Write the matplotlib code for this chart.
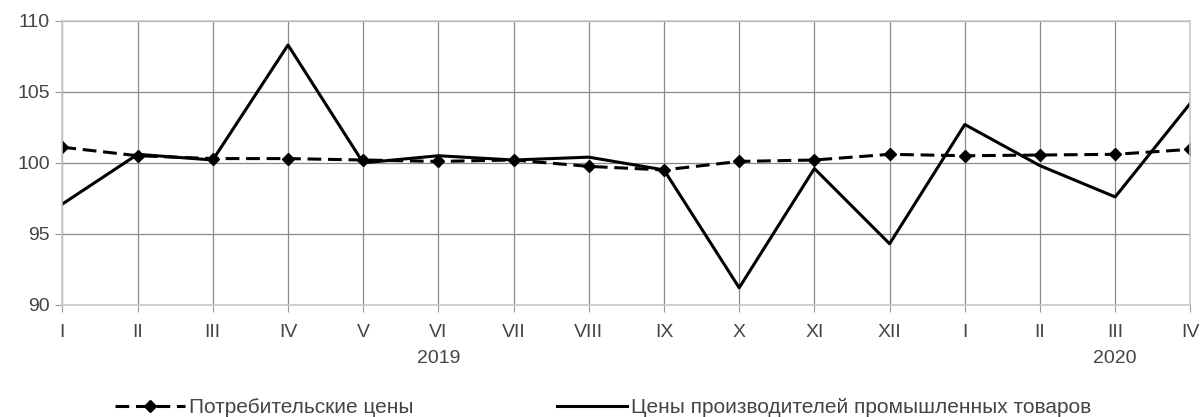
import matplotlib.pyplot as plt
import matplotlib.font_manager as fm

months = ["I", "II", "III", "IV", "V", "VI", "VII", "VIII", "IX", "X", "XI", "XII",
          "I", "II", "III", "IV"]
consumer = [101.1, 100.5, 100.3, 100.3, 100.2, 100.1, 100.2, 99.75, 99.5, 100.1,
            100.2, 100.6, 100.5, 100.55, 100.6, 100.95]
producer = [97.1, 100.6, 100.2, 108.3, 100.0, 100.5, 100.2, 100.4, 99.5, 91.2,
            99.6, 94.3, 102.7, 99.8, 97.6, 104.2]
years = [("2019", 5), ("2020", 14)]

names = {f.name for f in fm.fontManager.ttflist}
family = "Liberation Sans Narrow" if "Liberation Sans Narrow" in names else "Liberation Sans"
plt.rcParams["font.family"] = [family, "DejaVu Sans"]


def main():
    fig = plt.figure(figsize=(12, 4.17), dpi=100)
    ax = fig.add_axes([0.052, 0.269, 0.94, 0.681])
    x = list(range(len(months)))

    ax.plot(x, consumer, color="black", lw=2.2, ls=(0, (4.5, 2.2)), marker="D", ms=6.5,
            label="Потребительские цены")
    ax.plot(x, producer, color="black", lw=2.2,
            label="Цены производителей промышленных товаров")

    ax.set_xlim(0, 15)
    ax.set_ylim(90, 110)
    ax.set_yticks([90, 95, 100, 105, 110])
    ax.set_xticks(x)
    ax.set_xticklabels(months)
    ax.grid(True, color="#8a8a8a", lw=0.9)
    for s in ax.spines.values():
        s.set_color("#c8c8c8")
        s.set_linewidth(1.2)
    ax.tick_params(colors="#9a9a9a", labelcolor="#444444", labelsize=14, length=5)
    ax.tick_params(axis="x", pad=9)
    ax.tick_params(axis="y", pad=4)

    for label, pos in years:
        ax.text(pos, -0.19, label, transform=ax.get_xaxis_transform(), ha="center",
                va="center", fontsize=14, color="#444444")

    fig.legend(loc="center left", bbox_to_anchor=(0.096, 0.022), ncol=2, frameon=False,
               fontsize=15, columnspacing=6.9, handlelength=3.35, handletextpad=0.2,
               borderpad=0, borderaxespad=0, labelcolor="#444444")

    fig.savefig("out.png", dpi=100)


if __name__ == "__main__":
    main()
